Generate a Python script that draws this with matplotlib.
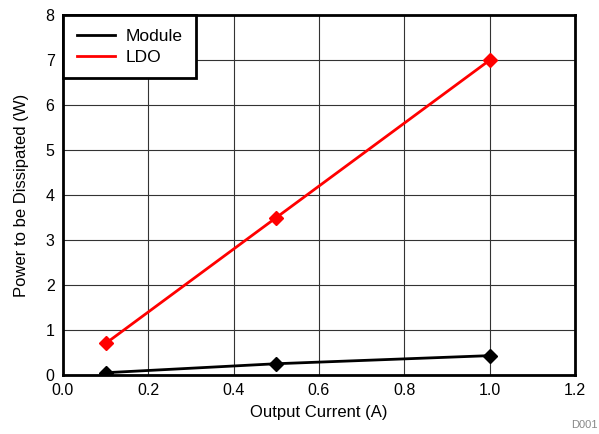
import matplotlib
matplotlib.use("Agg")
import matplotlib.pyplot as plt

plt.rcParams['font.family'] = ['Liberation Sans', 'DejaVu Sans']

current = [0.1, 0.5, 1.0]
module_power = [0.05, 0.25, 0.43]
ldo_power = [0.7, 3.5, 7.0]

fig = plt.figure(figsize=(5.99, 4.34), dpi=100)
ax = fig.add_axes([0.105, 0.136, 0.855, 0.829])

ax.plot(current, module_power, color="black", lw=2, marker="D", ms=7, label="Module")
ax.plot(current, ldo_power, color="red", lw=2, marker="D", ms=7, label="LDO")

ax.set_xlim(0, 1.2)
ax.set_ylim(0, 8)
ax.set_xticks([0.0, 0.2, 0.4, 0.6, 0.8, 1.0, 1.2])
ax.set_xticklabels(["0.0", "0.2", "0.4", "0.6", "0.8", "1.0", "1.2"])
ax.set_yticks(range(0, 9))
ax.tick_params(length=0, labelsize=11.5, pad=6)
ax.grid(True, color="#333333", lw=0.8)
ax.set_axisbelow(True)
for sp in ax.spines.values():
    sp.set_linewidth(2)

ax.set_xlabel("Output Current (A)", fontsize=12, labelpad=5)
ax.set_ylabel("Power to be Dissipated (W)", fontsize=12, labelpad=12)

leg = ax.legend(loc="upper left", handlelength=2.2, handletextpad=0.6, borderaxespad=0,
                fancybox=False, framealpha=1, edgecolor="black", fontsize=12.5,
                borderpad=0.8, labelspacing=0.3)
leg.get_frame().set_linewidth(2)
for h in leg.legend_handles:
    h.set_marker("")

fig.text(0.998, 0.01, "D001", ha="right", va="bottom", fontsize=8, color="#888888")

fig.savefig("out.png", dpi=100)
